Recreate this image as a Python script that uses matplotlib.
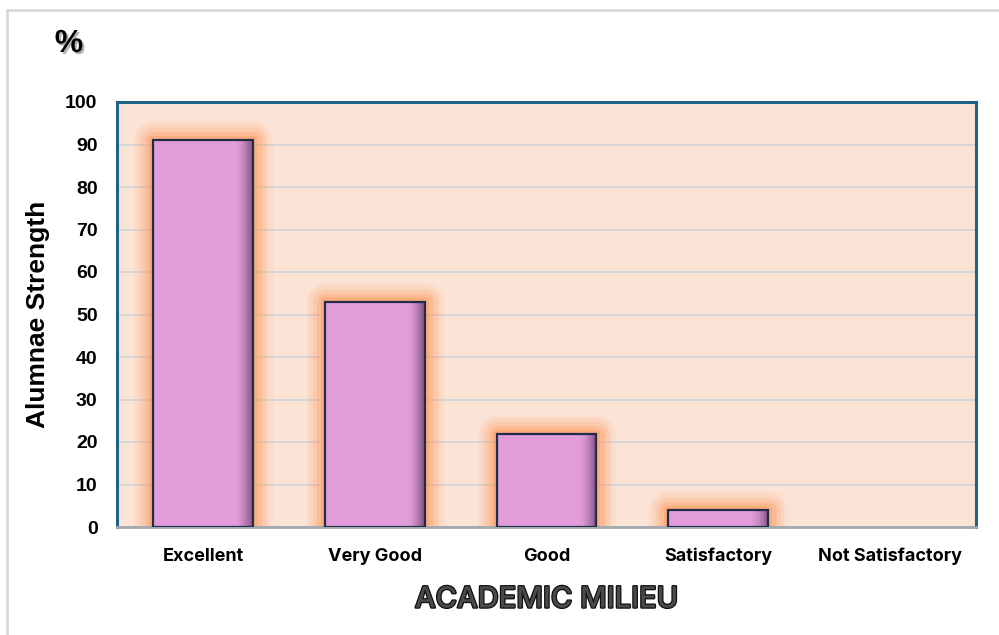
import numpy as np
import matplotlib
matplotlib.use('Agg')
import matplotlib.pyplot as plt
import matplotlib.patheffects as pe
from matplotlib.patches import Rectangle

categories = ['Excellent', 'Very Good', 'Good', 'Satisfactory', 'Not Satisfactory']
strength = [91, 53, 22, 4, 0]
yticks = [0, 10, 20, 30, 40, 50, 60, 70, 80, 90, 100]

bar_color = '#E29CDA'
edge_color = '#1E2D4A'
glow_color = '#FF9A5C'
bg_color = '#FBE3D6'
spine_color = '#1F6388'

fig = plt.figure(figsize=(9.99, 6.35), dpi=100)
ax = fig.add_axes([117/999, 108/635, 859/999, 425/635])
ax.set_facecolor(bg_color)

x = np.arange(len(categories))
width = 0.58
vals = np.array(strength)
shown = vals > 0

# soft orange glow behind bars
glow = [pe.Stroke(linewidth=w, foreground=glow_color, alpha=a, joinstyle='round')
        for w, a in [(28, 0.08), (23, 0.12), (18, 0.18), (12, 0.28), (6, 0.45)]]
g = ax.bar(x[shown], vals[shown], width, color=glow_color, edgecolor=glow_color,
           linewidth=0, zorder=2)
for p in g:
    p.set_path_effects(glow + [pe.Normal()])

ax.bar(x[shown], vals[shown], width, color=bar_color, linewidth=0, zorder=3)

# dark shading on the right side of every bar
n = 16
shade_w = width * 0.17
for xi, v in zip(x[shown], vals[shown]):
    left = xi + width / 2 - shade_w
    for k in range(n):
        ax.bar(left + k * shade_w / n, v, shade_w / n, align='edge',
               color='#4A2A50', alpha=0.6 * ((k + 1) / n) ** 1.6,
               linewidth=0, zorder=4)

ax.bar(x[shown], vals[shown], width, facecolor='none', edgecolor=edge_color,
       linewidth=1.6, zorder=5)

ax.set_xlim(-0.5, len(categories) - 0.5)
ax.set_ylim(0, 100)
ax.set_yticks(yticks)
ax.yaxis.grid(True, color='#D0D3D8', linewidth=1.2, zorder=1)
ax.set_axisbelow(True)
ax.tick_params(length=0)
ax.tick_params(axis='y', pad=14)
ax.tick_params(axis='x', pad=15)
ax.set_xticks(x)
ax.set_xticklabels(categories, fontsize=13, fontweight='bold', family='Inter')
for t in ax.get_yticklabels():
    t.set_fontsize(14)
    t.set_fontweight('bold')
    t.set_family('Liberation Sans')

for s in ['top', 'left', 'right']:
    ax.spines[s].set_color(spine_color)
    ax.spines[s].set_linewidth(2.2)
ax.spines['bottom'].set_color('#9FAAB2')
ax.spines['bottom'].set_linewidth(2)

ax.set_ylabel('Alumnae Strength', fontsize=19, fontweight='bold',
              family='Liberation Sans')
ax.yaxis.set_label_coords(-0.078, 0.5)
xl = ax.set_xlabel('ACADEMIC MILIEU', fontsize=21, fontweight='medium',
                   family='Inter', color='#4A4A4A')
xl.set_path_effects([pe.Stroke(linewidth=1.8, foreground='#111111'), pe.Normal()])
ax.xaxis.set_label_coords(0.5, -0.14)

fig.text(69/999, 1 - 44/635, '%', fontsize=23, fontweight='bold',
         family='Liberation Sans', ha='center', va='center',
         path_effects=[pe.withSimplePatchShadow(offset=(1.5, -1.5), alpha=0.3)])

fig.patches.append(Rectangle((7/999, -0.05), 1.1, 1.05 - 10/635,
                             transform=fig.transFigure, fill=False,
                             edgecolor='#D9D9D9', linewidth=2))

fig.savefig('out.png', dpi=100)
